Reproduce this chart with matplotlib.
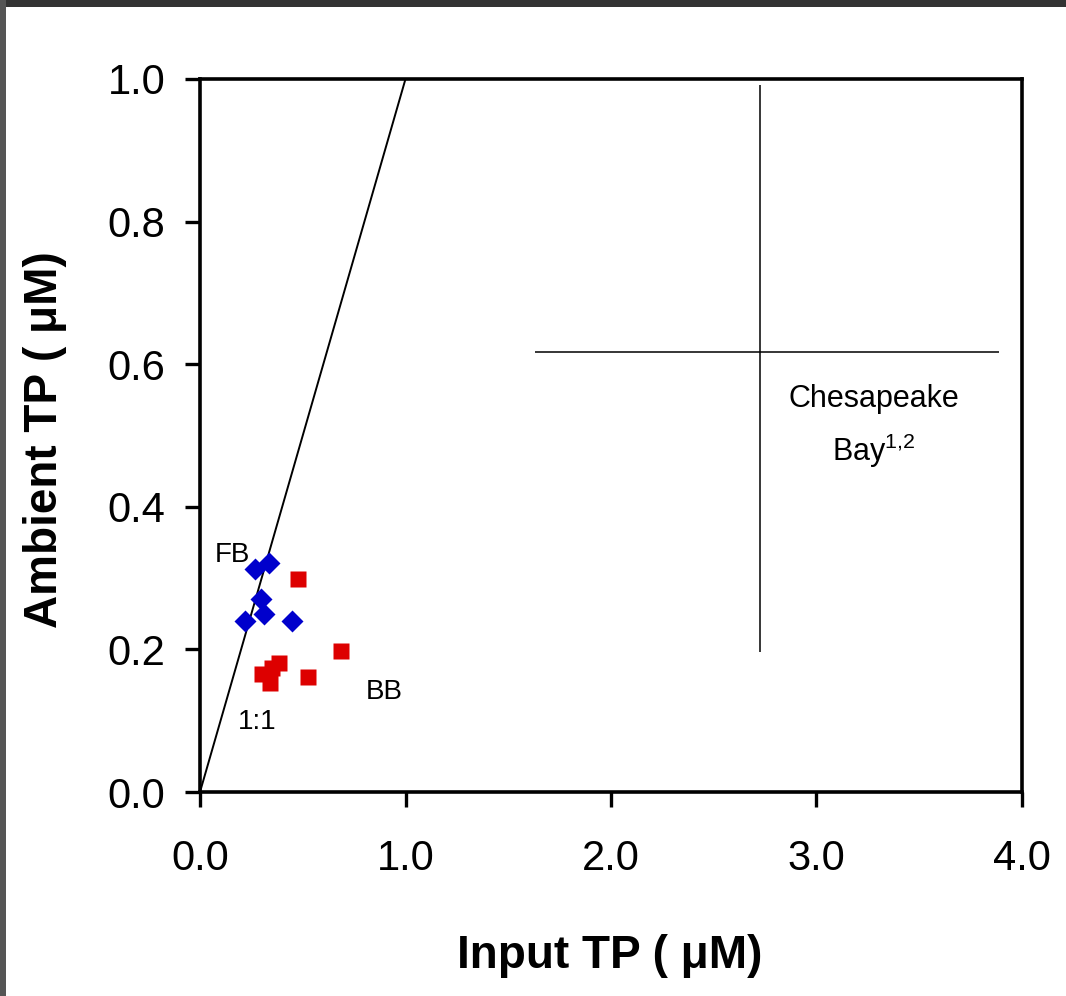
import matplotlib
matplotlib.use("Agg")
import matplotlib.pyplot as plt
from matplotlib.patches import Rectangle

plt.rcParams['font.family'] = ['Liberation Sans', 'DejaVu Sans']

# Data
fb_x = [0.268, 0.336, 0.297, 0.311, 0.219, 0.448]
fb_y = [0.313, 0.321, 0.271, 0.250, 0.240, 0.240]
bb_x = [0.477, 0.686, 0.526, 0.384, 0.350, 0.300, 0.340]
bb_y = [0.299, 0.198, 0.161, 0.181, 0.174, 0.166, 0.153]
one_to_one_x = [0.0, 1.0]
one_to_one_y = [0.0, 1.0]
cb_center = (2.725, 0.617)
cb_xerr = ([1.095], [1.165])
cb_yerr = ([0.421], [0.375])
xticks = [0.0, 1.0, 2.0, 3.0, 4.0]
yticks = [0.0, 0.2, 0.4, 0.6, 0.8, 1.0]

fig = plt.figure(figsize=(10.66, 9.96), dpi=100)
# dark window border
fig.patches.append(Rectangle((0, 1 - 7/996), 1, 7/996, transform=fig.transFigure,
                             facecolor='#333333', edgecolor='none', zorder=10))
fig.patches.append(Rectangle((0, 0), 6/1066, 1, transform=fig.transFigure,
                             facecolor='#555555', edgecolor='none', zorder=10))

ax = fig.add_axes([200/1066, (996-792)/996, 822/1066, 713/996])
ax.plot(one_to_one_x, one_to_one_y, color='black', lw=1.4, zorder=1)
ax.errorbar([cb_center[0]], [cb_center[1]], xerr=cb_xerr, yerr=cb_yerr,
            fmt='none', ecolor='black', elinewidth=1.1, capsize=0)
ax.plot(fb_x, fb_y, 'D', color='#0000CC', ms=11.5, mec='none', zorder=3, clip_on=False)
ax.plot(bb_x, bb_y, 's', color='#DD0000', ms=11, mec='none', zorder=3, clip_on=False)

ax.text(0.156, 0.332, 'FB', fontsize=20, ha='center', va='center')
ax.text(0.895, 0.14, 'BB', fontsize=20, ha='center', va='center')
ax.text(0.28, 0.098, '1:1', fontsize=20, ha='center', va='center')
ax.text(3.28, 0.551, 'Chesapeake', fontsize=22, ha='center', va='center')
ax.text(3.28, 0.478, r'Bay$^{\mathregular{1{,}2}}$', fontsize=22, ha='center', va='center')

ax.set_xlim(0, 4.0)
ax.set_ylim(0, 1.0)
ax.set_xticks(xticks)
ax.set_yticks(yticks)
ax.set_xticklabels([f'{v:.1f}' for v in xticks])
ax.set_yticklabels([f'{v:.1f}' for v in yticks])
ax.tick_params(direction='out', length=11, width=2.4, labelsize=30,
               top=False, right=False)
ax.tick_params(axis='x', pad=23)
ax.tick_params(axis='y', pad=14)
for s in ax.spines.values():
    s.set_linewidth(2.6)

fig.text(610/1066, (996-956)/996, 'Input TP ( μM)', fontsize=33, fontweight='bold',
         ha='center', va='center')
fig.text(45/1066, (996-440)/996, 'Ambient TP ( μM)', fontsize=33, fontweight='bold',
         ha='center', va='center', rotation=90)

fig.savefig('out.png', dpi=100)
